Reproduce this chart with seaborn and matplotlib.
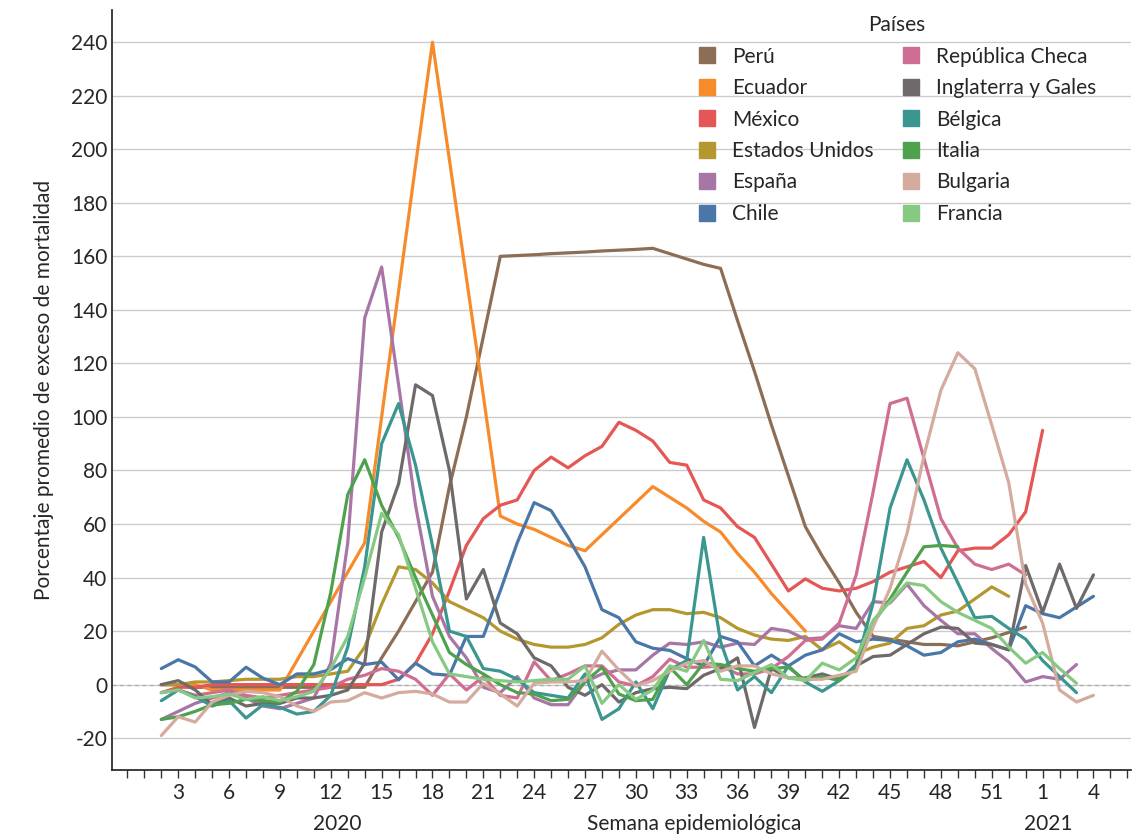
import numpy as np
import pandas as pd
import matplotlib.pyplot as plt
import seaborn as sns
from matplotlib.lines import Line2D

nan = np.nan
# week index: 2020 week w -> w ; 2021 week w -> 53 + w
weeks = list(range(1, 58))

peru = [nan, 0, 0, -1, -1, -1, -1, -1, -1, -1, -1, -1, -1, -1, 10, 20, 31, 42, 74, 100,
        130, 160, 160.3, 160.6, 161, 161.3, 161.6, 162, 162.3, 162.6, 163, 161, 159, 157, 155.5, 136,
        117, 97, 78, 59, 48, 38, 27, 18, 17, 16, 15, 15, 14.5, 16, 17.5, 19.5, 21.5,
        nan, nan, nan, nan]
ecuador = [nan, 0, 0, 0, -2, -2, -2, -2, -2, 9, 20, 31, 42, 53, 100, 147, 194, 240, 196, 152,
           108, 63, 60, 58, 55, 52, 50, 56, 62, 68, 74, 70, 66, 61, 57, 49, 42, 34, 27, 20,
           nan, nan, nan, nan, nan, nan, nan, nan, nan, nan, nan, nan, nan, nan, nan, nan, nan]
mexico = [nan, -3, -1, -1, 0, 0, 0, 0, 0, 0, 0, 0, 0, 0, 0, 2, 8, 19, 35, 52,
          62, 67, 69, 80, 85, 81, 85.5, 89, 98, 95, 91, 83, 82, 69, 66, 59, 55, 45, 35, 39.5,
          36, 35, 36, 38.5, 42, 44, 46, 40, 50, 51, 51, 56, 64.5, 95, nan, nan, nan]
eeuu = [nan, 0, 0, 1, 1, 1.5, 2, 2, 2, 3, 3, 4, 5, 14, 30, 44, 43, 38, 31, 28,
        25, 20, 17, 15, 14, 14, 15, 17.5, 22.5, 26, 28, 28, 26.5, 27, 25, 21, 18.5, 17, 16.5, 18,
        13, 16, 11.5, 14, 15.5, 21, 22, 26, 27.5, 32, 36.5, 33, nan, nan, nan, nan, nan]
espana = [nan, -13, -10, -7, -5, -3, -5, -8, -9, -7, -5, 8, 53, 137, 156, 112, 67, 33, 18, 10,
          -1, -3, 3, -5, -7.5, -7.5, 1, 4, 5.5, 5.5, 11, 15.5, 15, 16, 14, 15.5, 15, 21, 20, 17,
          17.5, 22, 21, 31, 30.5, 37.5, 29.5, 24, 19, 19, 13.5, 8.5, 1, 3, 2, 7.5, nan]
chile = [nan, 6, 9.3, 6.6, 1, 1, 6.5, 2.4, 0, 4, 4, 5.6, 9.7, 7.5, 8.4, 1.8, 8, 4, 3.5, 18,
         18, 35, 53, 68, 65, 55, 44, 28, 25, 16, 13.6, 12.8, 9.7, 7, 18, 16, 7, 11, 7, 11,
         13, 19, 16, 17, 16.5, 14.5, 11, 12, 16, 17, 15, 13, 29.5, 26.5, 25, 29, 33]
checa = [nan, -3, -2, -4, -3, -2, -4, -5, -4, -3, -2, -1, 2, 3.5, 6, 5, 2, -4, 4, -2,
         3, -4, -5, 8.5, 1.5, 4, 7, 7, 1, -0.5, 3, 9.5, 6.5, 6.5, 7, 4, 4, 6, 10.5, 16.5,
         17, 23, 41, 72, 105, 107, 84.5, 62, 51, 45, 43, 45, 41, nan, nan, nan, nan]
inglaterra = [nan, 0, 1.5, -2, -7.5, -5, -8, -7, -7, -5, -5, -4, -2, 8, 57, 75, 112, 108, 80, 32,
              43, 23, 19, 10, 7, -1, -4, 0, -6.5, -3, -1.5, -1, -1.5, 3.5, 6, 10, -16, 6, 2.5, 2.5,
              4, 2, 7, 10.5, 11, 15, 19, 21.5, 21, 15.5, 15, 13, 44.5, 27, 45, 28.5, 41]
belgica = [nan, -6, -2, -4.5, -8, -6, -12.5, -7.5, -8.5, -11, -10, -4, 14, 44, 90, 105, 82, 52, 20, 18,
           6, 5, 2, -3, -4, -5, 4, -13, -9, 1, -9, 5.5, 9, 55, 16, -2, 3, -3, 7, 1,
           -2.5, 1.5, 7.5, 30.5, 66, 84, 69, 51, 38, 25, 25.5, 21, 17, 9, 3, -3, nan]
italia = [nan, -13, -12, -10, -7.5, -7, -5.5, -6, -6.5, -2.5, 7.5, 34.5, 71, 84, 67, 55, 40, 26, 12, 7.5,
          4, 0, -3, -3.5, -6, -5.5, 1, 6.5, -3.5, -6, -5.5, 6.5, 0, 8, 7.5, 6, 5, 6, 6.5, 1.5,
          3, 1.5, 6, 23, 32, 42, 51.5, 52, 51.5, nan, nan, nan, nan, nan, nan, nan, nan]
bulgaria = [nan, -19, -12, -14, -6.5, -4, -2.5, -3, -4.5, -8, -10, -6.5, -6, -3, -5, -3, -2.5, -3.5, -6.5, -6.5,
            0.5, -3.5, -8, 0.5, 1, 1, 1.5, 12.5, 5.5, -0.5, 1.5, 5, 8, 9, 5, 7, 7, 4, 2.5, 2,
            2, 3.5, 5, 21.5, 36, 56.5, 85.5, 110, 124, 118, 97, 75.5, 37.5, 23, -2, -6.5, -4]
francia = [nan, -3, -2, -5, -4.5, -3.5, -5.5, -4.5, -6, -4.5, -2.5, 6, 18, 40, 64, 56, 36, 16, 4, 3,
           2, 1.5, 1, 1.5, 2, 2, 7, -7, 0, -5.5, -2, 7, 5, 16.5, 2, 1.5, 4.5, 7.5, 2.5, 1.5,
           8, 5.5, 10, 24, 31, 38, 37, 31, 27, 24, 21, 14, 8, 12, 6, 0.5, nan]

countries = ['Perú', 'Ecuador', 'México', 'Estados Unidos', 'España', 'Chile',
             'República Checa', 'Inglaterra y Gales', 'Bélgica', 'Italia', 'Bulgaria', 'Francia']
series = [peru, ecuador, mexico, eeuu, espana, chile,
          checa, inglaterra, belgica, italia, bulgaria, francia]
colors = ['#8c6d55', '#f78b2c', '#e45756', '#b4982f', '#a775a6', '#4a77a8',
          '#cf6e92', '#6f6a69', '#3a968f', '#4ea24d', '#d4ab9e', '#86c982']

tick_pos = list(range(3, 58, 3))
tick_labels = [str(w) if w <= 53 else str(w - 53) for w in tick_pos]

rows = []
for name, vals in zip(countries, series):
    for w, v in zip(weeks, vals):
        rows.append({'semana': w, 'valor': v, 'pais': name})
df = pd.DataFrame(rows).dropna()

sns.set_theme(style='ticks')
plt.rcParams['font.family'] = ['Lato', 'DejaVu Sans']

fig = plt.figure(figsize=(11.33, 8.4), dpi=100)
ax = fig.add_axes([0.099, 0.083, 0.899, 0.905])
ax.axhline(0, color='#aaaaaa', lw=0.9, ls=(0, (3, 3)), zorder=1)
sns.lineplot(data=df, x='semana', y='valor', hue='pais', hue_order=countries,
             palette=dict(zip(countries, colors)), lw=2.3, ax=ax, zorder=3, legend=False)

ax.set_xlim(-0.9, 59.2)
ax.set_ylim(-32, 252)
ax.set_yticks(range(-20, 241, 20))
ax.set_yticklabels([str(v) for v in range(-20, 241, 20)], fontsize=15)
ax.yaxis.grid(True, color='#cccccc', lw=1)
ax.set_xticks(tick_pos)
ax.set_xticklabels(tick_labels, fontsize=15)
ax.set_xticks(range(0, 60), minor=True)
ax.tick_params(axis='x', which='both', length=6, width=1, color='#333333')
ax.tick_params(axis='y', length=0)
ax.spines['top'].set_visible(False)
ax.spines['right'].set_visible(False)
ax.set_xlabel('')
ax.set_ylabel('Porcentaje promedio de exceso de mortalidad', fontsize=15, labelpad=12)

fig.text(0.298, 0.012, '2020', fontsize=15, ha='center')
fig.text(0.613, 0.012, 'Semana epidemiológica', fontsize=15, ha='center')
fig.text(0.925, 0.012, '2021', fontsize=15, ha='center')

handles = [Line2D([], [], ls='none', marker='s', markersize=12, color=c) for c in colors]
leg = ax.legend(handles, countries, title='Países', ncol=2, frameon=False, fontsize=15,
                title_fontsize=15, loc='upper right', bbox_to_anchor=(0.985, 1.018),
                handlelength=1.0, handletextpad=0.7, columnspacing=1.3, labelspacing=0.55)

fig.savefig('out.png', dpi=100)
